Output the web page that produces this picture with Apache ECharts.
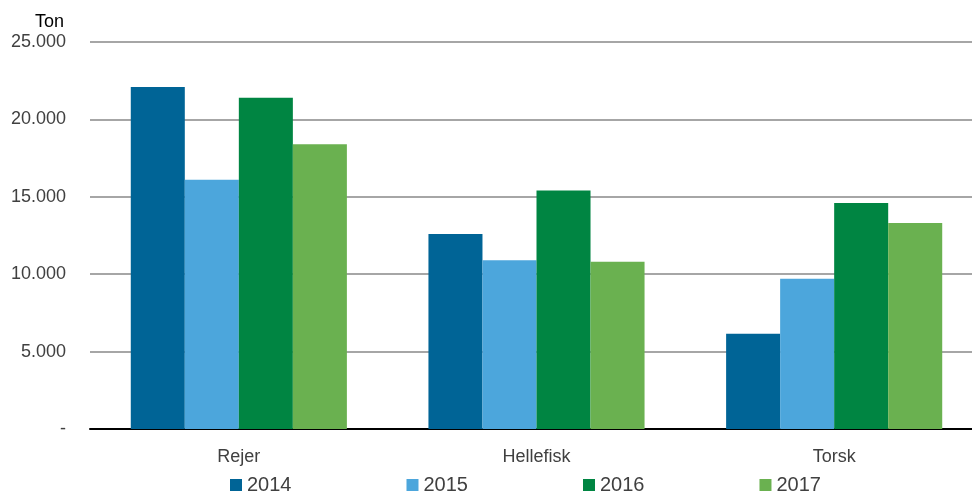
<!DOCTYPE html>
<html><head><meta charset="utf-8">
<script src="https://cdn.jsdelivr.net/npm/echarts@6/dist/echarts.min.js"></script>
<style>html,body{margin:0;padding:0;background:#fff;overflow:hidden}#c{width:983px;height:493px}</style>
</head><body><div id="c"></div>
<script>
var categories = ["Rejer", "Hellefisk", "Torsk"];
var years = ["2014", "2015", "2016", "2017"];
var v2014 = [22100, 12600, 6150];
var v2015 = [16100, 10900, 9700];
var v2016 = [21400, 15400, 14600];
var v2017 = [18400, 10800, 13300];
var colors = ["#006496", "#4ca6dc", "#008542", "#6ab150"];
var values = [v2014, v2015, v2016, v2017];

function fmt(v){ if(v===0) return "-"; return String(v).replace(/\B(?=(\d{3})+(?!\d))/g, "."); }

var chart = echarts.init(document.getElementById('c'));
chart.setOption({
  animation:false,
  textStyle:{fontFamily:"Liberation Sans, Arial, sans-serif"},
  grid:{left:90, right:0, top:42, bottom:64, containLabel:false},
  title:{text:"Ton", left:30, top:8, textStyle:{fontSize:18, fontWeight:"normal", color:"#000", fontFamily:"Liberation Sans"}},
  legend:{
    data:years, top:470, left:225, itemGap:115, itemWidth:12, itemHeight:12, icon:"rect",
    textStyle:{fontSize:20, color:"#404040", fontFamily:"Liberation Sans"}
  },
  xAxis:{type:"category", data:categories,
    axisLine:{lineStyle:{color:"#000", width:2}}, axisTick:{show:false},
    axisLabel:{fontSize:18, color:"#404040", margin:19}
  },
  yAxis:{type:"value", min:0, max:25000, interval:5000,
    axisLine:{show:false}, axisTick:{show:false},
    splitLine:{lineStyle:{color:"#a6a6a6", width:2}},
    axisLabel:{fontSize:18, color:"#404040", margin:24, formatter:fmt}
  },
  series: years.map(function(y,i){ return {name:y, type:"bar", data:values[i], barGap:"0%", barCategoryGap:"27.4%", itemStyle:{color:colors[i]}}; })
});
</script></body></html>
